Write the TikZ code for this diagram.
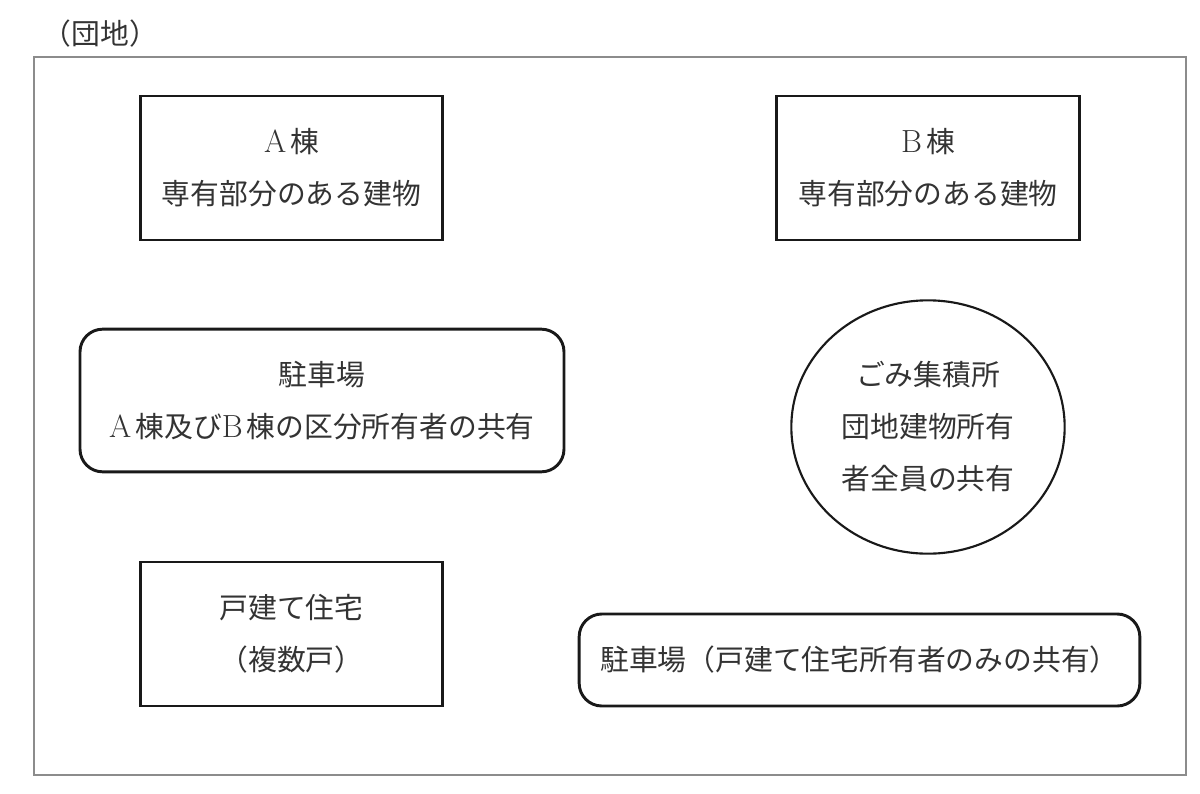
\documentclass[tikz,border=0pt]{standalone}
\usepackage{fontspec}
\newfontfamily\cjk{Noto Sans CJK JP}[Scale=0.96]
\usetikzlibrary{shapes.geometric}
\newcommand{\lat}[1]{{\rmfamily\fontsize{24pt}{39pt}\selectfont #1}\hspace{3pt}}
\begin{document}
\begin{tikzpicture}[x=0.75pt,y=-0.75pt,
  frame/.style={draw=black!45,line width=1.2pt},
  boxa/.style={draw=black!90,line width=2.2pt,minimum width=227pt,minimum height=108pt,inner sep=0pt},
  rbox/.style={draw=black!90,line width=2.2pt,rounded corners=17pt,inner sep=0pt},
  circ/.style={ellipse,draw=black!90,line width=1.6pt,minimum width=205pt,minimum height=190pt,inner sep=0pt},
  txt/.style={font=\fontsize{22.5pt}{39pt}\selectfont\cjk,text=black!80,align=center}]
\useasboundingbox (0,0) rectangle (1200,793);
\node[frame,minimum width=864pt,minimum height=538.5pt,inner sep=0pt] (danchi) at (610,416) {};
\node[txt,anchor=west] (title) at (38,34) {（団地）};
\node[boxa,txt] (a) at (291.5,168) {\lat{A}棟\\専有部分のある建物};
\node[boxa,txt] (b) at (928,168) {\lat{B}棟\\専有部分のある建物};
\node[rbox,txt,minimum width=363pt,minimum height=107pt] (p1) at (322,400.5) {駐車場\\\lat{A}棟及び\lat{B}棟の区分所有者の共有};
\node[circ] (g) at (928,427) {};
\node[txt] (gt) at (g.center) {ごみ集積所\\団地建物所有\\者全員の共有};
\node[boxa,txt] (h) at (291.5,634) {戸建て住宅\\（複数戸）};
\node[rbox,txt,minimum width=420.5pt,minimum height=69pt] (p2) at (859.5,660) {駐車場（戸建て住宅所有者のみの共有）};
\end{tikzpicture}
\end{document}
